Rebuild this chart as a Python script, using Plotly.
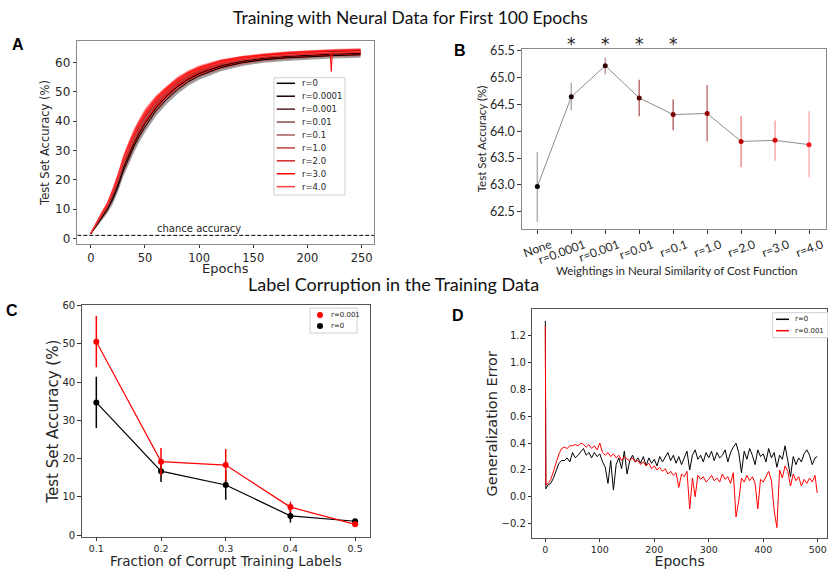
import plotly.graph_objects as go

W, H = 828, 569
def px(x): return x / W
def py(y): return 1 - y / H

# ---------------- Panel A data ----------------
epochs_A = [0, 5, 10, 15, 20, 25, 30, 35, 40, 45, 50, 60, 70, 80, 90, 100, 120, 140, 160, 180, 200, 221, 222, 223, 249]
labels_A = ["r=0", "r=0.0001", "r=0.001", "r=0.01", "r=0.1", "r=1.0", "r=2.0", "r=3.0", "r=4.0"]
acc_r0     = [1.5, 4.3, 7.0, 9.6, 13.0, 17.5, 23.0, 27.5, 31.5, 35.0, 38.0, 43.5, 47.5, 50.8, 53.5, 55.5, 58.3, 60.0, 61.0, 61.6, 62.0, 62.4, 62.4, 62.4, 62.7]
acc_r00001 = [1.6, 4.5, 7.3, 10.0, 13.8, 18.5, 24.0, 28.5, 32.5, 36.0, 39.2, 44.5, 48.5, 51.8, 54.3, 56.3, 58.9, 60.5, 61.5, 62.1, 62.6, 62.9, 62.9, 62.9, 63.2]
acc_r0001  = [1.7, 4.8, 7.8, 10.6, 14.8, 19.8, 25.6, 30.2, 34.4, 38.0, 41.3, 46.2, 50.0, 53.2, 55.5, 57.3, 59.7, 61.2, 62.2, 62.8, 63.3, 63.7, 63.7, 63.7, 64.0]
acc_r001   = [1.6, 4.7, 7.6, 10.4, 14.4, 19.2, 25.0, 29.6, 33.8, 37.3, 40.6, 45.6, 49.5, 52.7, 55.1, 57.0, 59.4, 60.9, 61.9, 62.5, 63.0, 63.4, 63.4, 63.4, 63.6]
acc_r01    = [1.7, 4.9, 7.9, 10.7, 14.9, 19.6, 25.3, 30.0, 34.1, 37.7, 40.9, 45.9, 49.8, 52.9, 55.3, 57.1, 59.5, 60.9, 61.9, 62.5, 62.9, 63.3, 63.3, 63.3, 63.5]
acc_r1     = [1.8, 5.0, 8.0, 10.9, 15.2, 20.2, 26.0, 30.6, 34.8, 38.4, 41.7, 46.5, 50.2, 53.3, 55.6, 57.4, 59.7, 61.1, 62.0, 62.6, 63.0, 63.4, 63.4, 63.4, 63.6]
acc_r2     = [1.7, 4.9, 7.9, 10.8, 15.0, 20.0, 25.8, 30.4, 34.6, 38.2, 41.5, 46.3, 50.0, 53.1, 55.4, 57.2, 59.6, 61.0, 61.9, 62.5, 62.9, 63.3, 63.3, 63.3, 63.5]
acc_r3     = [1.8, 5.1, 8.2, 11.1, 15.4, 20.6, 26.4, 31.0, 35.3, 38.8, 42.1, 46.8, 50.4, 53.5, 55.8, 57.6, 59.9, 61.2, 62.1, 62.7, 63.1, 63.5, 57.0, 63.5, 63.7]
acc_r4     = [1.8, 5.2, 8.3, 11.0, 15.5, 20.5, 26.5, 31.0, 35.5, 39.0, 42.5, 47.0, 50.5, 53.8, 56.0, 57.8, 60.0, 61.3, 62.2, 62.8, 63.2, 63.5, 63.5, 63.5, 63.8]
std_A      = [0.3, 0.7, 0.9, 1.2, 1.5, 1.8, 2.0, 2.1, 2.1, 2.0, 1.9, 1.8, 1.6, 1.5, 1.4, 1.3, 1.2, 1.1, 1.0, 1.0, 1.0, 1.0, 1.0, 1.0, 1.0]
series_A = [acc_r0, acc_r00001, acc_r0001, acc_r001, acc_r01, acc_r1, acc_r2, acc_r3, acc_r4]
chance_level = 1.0

# ---------------- Panel B data ----------------
labels_B = ["None", "r=0.0001", "r=0.001", "r=0.01", "r=0.1", "r=1.0", "r=2.0", "r=3.0", "r=4.0"]
mean_B = [62.97, 64.64, 65.22, 64.62, 64.31, 64.33, 63.81, 63.83, 63.75]
errp_B = [0.64, 0.26, 0.15, 0.34, 0.28, 0.53, 0.47, 0.37, 0.62]
errm_B = [0.66, 0.25, 0.16, 0.34, 0.29, 0.52, 0.48, 0.38, 0.61]
significant_B = ["r=0.0001", "r=0.001", "r=0.01", "r=0.1"]

# ---------------- Panel C data ----------------
frac_C = [0.1, 0.2, 0.3, 0.4, 0.5]
acc_C_r0001 = [50.6, 19.2, 18.3, 7.3, 2.8]
err_C_r0001 = [6.7, 3.6, 4.2, 1.4, 0.5]
acc_C_r0 = [34.7, 16.7, 13.1, 5.0, 3.6]
err_C_r0 = [6.7, 2.8, 3.9, 1.7, 0.4]

# ---------------- Panel D data ----------------
epochs_D = [0, 1] + list(range(5, 500, 5)) + [499]
gen_r0 = [1.31, 0.06,
    0.09, 0.10, 0.14, 0.19, 0.25, 0.27, 0.27, 0.29, 0.26, 0.33,
    0.29, 0.31, 0.34, 0.36, 0.31, 0.33, 0.29, 0.33, 0.30, 0.32,
    0.26, 0.22, 0.10, 0.27, 0.05, 0.24, 0.29, 0.21, 0.34, 0.17,
    0.27, 0.31, 0.26, 0.29, 0.25, 0.30, 0.23, 0.29, 0.25, 0.28,
    0.23, 0.30, 0.26, 0.29, 0.33, 0.27, 0.31, 0.25, 0.30, 0.24,
    0.29, 0.34, 0.20, 0.31, 0.35, 0.28, 0.31, 0.26, 0.33, 0.29,
    0.34, 0.27, 0.33, 0.29, 0.31, 0.35, 0.26, 0.33, 0.37, 0.40,
    0.33, 0.18, 0.34, 0.28, 0.36, 0.31, 0.24, 0.35, 0.30, 0.32,
    0.26, 0.36, 0.29, 0.33, 0.22, 0.31, 0.28, 0.38, 0.27, 0.15,
    0.30, 0.24, 0.29, 0.26, 0.32, 0.35, 0.31, 0.24, 0.29,
    0.30]
gen_r0001 = [1.27, 0.09,
    0.10, 0.13, 0.19, 0.25, 0.32, 0.36, 0.37, 0.36, 0.38, 0.38,
    0.39, 0.38, 0.40, 0.39, 0.37, 0.39, 0.36, 0.38, 0.35, 0.40,
    0.33, 0.31, 0.33, 0.30, 0.32, 0.29, 0.31, 0.27, 0.30, 0.28,
    0.27, 0.29, 0.26, 0.27, 0.24, 0.26, 0.23, 0.25, 0.21, 0.23,
    0.20, 0.22, 0.19, 0.21, 0.17, 0.19, 0.16, 0.18, 0.07, 0.17,
    0.15, 0.19, -0.09, 0.14, 0.00, 0.16, 0.13, 0.15, 0.11, 0.13,
    0.16, 0.12, 0.14, 0.11, 0.17, 0.13, 0.15, 0.10, 0.18, -0.15,
    -0.03, 0.14, 0.11, 0.16, 0.12, 0.15, 0.10, -0.09, 0.13, 0.11,
    0.15, 0.19, 0.12, -0.10, -0.23, 0.20, 0.14, 0.23, 0.19, 0.08,
    0.17, 0.12, 0.15, 0.08, 0.13, 0.10, 0.14, 0.11, 0.16,
    0.03]

# ---------------- styles ----------------
colors_A = ["#000000", "#1a0000", "#5a2020", "#8b4b4b", "#a85a5a", "#c04040", "#d02828", "#ff0000", "#ff4040"]
colors_B_marker = ["#000000", "#1a0000", "#330000", "#550000", "#770000", "#990000", "#bb0000", "#dd0000", "#ff1a1a"]
colors_B_err = ["#b0b0b0", "#b0b0b0", "#c09a9a", "#b87070", "#b86868", "#c87878", "#f09090", "#f8a8a8", "#ffb8b8"]
MPL = "DejaVu Sans"
CAL = "Lato"
TXT = "#262626"

fig = go.Figure()

# ---- Panel A traces: bands then lines ----
for i, ys in enumerate(series_A):
    up = [m + s for m, s in zip(ys, std_A)]
    lo = [m - s for m, s in zip(ys, std_A)]
    fc = "rgba(120,120,120,0.7)" if i == 0 else "rgba(255,0,0,0.3)"
    fig.add_trace(go.Scatter(x=epochs_A, y=up, mode="lines", line=dict(width=0), showlegend=False,
                             hoverinfo="skip", xaxis="x", yaxis="y"))
    fig.add_trace(go.Scatter(x=epochs_A, y=lo, mode="lines", line=dict(width=0), fill="tonexty",
                             fillcolor=fc, showlegend=False, hoverinfo="skip", xaxis="x", yaxis="y"))
for i, ys in enumerate(series_A):
    fig.add_trace(go.Scatter(x=epochs_A, y=ys, mode="lines", name=labels_A[i],
                             line=dict(color=colors_A[i], width=1), showlegend=False, xaxis="x", yaxis="y"))
fig.add_trace(go.Scatter(x=[-12.45, 261.45], y=[chance_level, chance_level], mode="lines",
                         line=dict(color="black", width=1, dash="4px,2px"), showlegend=False,
                         xaxis="x", yaxis="y"))

# ---- Panel B ----
fig.add_trace(go.Scatter(x=labels_B, y=mean_B, mode="lines", line=dict(color="#8c8c8c", width=1),
                         showlegend=False, xaxis="x2", yaxis="y2"))
for i, lab in enumerate(labels_B):
    fig.add_trace(go.Scatter(x=[lab], y=[mean_B[i]], mode="markers",
                             marker=dict(color=colors_B_marker[i], size=5),
                             error_y=dict(type="data", symmetric=False, array=[errp_B[i]], arrayminus=[errm_B[i]],
                                          color=colors_B_err[i], thickness=1.5, width=0),
                             showlegend=False, xaxis="x2", yaxis="y2"))

# ---- Panel C ----
fig.add_trace(go.Scatter(x=frac_C, y=acc_C_r0, mode="lines+markers", name="r=0",
                         line=dict(color="black", width=1.2), marker=dict(color="black", size=6),
                         error_y=dict(type="data", array=err_C_r0, color="black", thickness=1.5, width=0),
                         showlegend=False, xaxis="x3", yaxis="y3"))
fig.add_trace(go.Scatter(x=frac_C, y=acc_C_r0001, mode="lines+markers", name="r=0.001",
                         line=dict(color="red", width=1.2), marker=dict(color="red", size=6),
                         error_y=dict(type="data", array=err_C_r0001, color="red", thickness=1.5, width=0),
                         showlegend=False, xaxis="x3", yaxis="y3"))

# ---- Panel D ----
fig.add_trace(go.Scatter(x=epochs_D, y=gen_r0, mode="lines", name="r=0",
                         line=dict(color="black", width=1), showlegend=False, xaxis="x4", yaxis="y4"))
fig.add_trace(go.Scatter(x=epochs_D, y=gen_r0001, mode="lines", name="r=0.001",
                         line=dict(color="red", width=1), showlegend=False, xaxis="x4", yaxis="y4"))

# ---- axes ----
def ax(domain, rng, anchor, tickfont, linecolor="#555555", **kw):
    d = dict(domain=domain, range=rng, anchor=anchor, showline=True, mirror=True, linecolor=linecolor,
             linewidth=1, ticks="outside", ticklen=3.5, tickwidth=1, tickcolor="#333333",
             showgrid=False, zeroline=False, tickfont=tickfont, automargin=False)
    d.update(kw)
    return d

fA = dict(family=MPL, size=12, color=TXT)
fig.update_layout(
    xaxis=ax([px(77.3), px(374)], [-12.45, 261.45], "y", dict(family=MPL, size=11.5, color=TXT),
             linecolor="#8a8a8a", ticklen=2.5, tickvals=[0, 50, 100, 150, 200, 250]),
    yaxis=ax([py(244.3), py(40.7)], [-2.05, 67.5], "x", fA, linecolor="#8a8a8a",
             tickvals=[0, 10, 20, 30, 40, 50, 60],
             title=dict(text="Test Set Accuracy (%)", font=dict(family=MPL, size=11.5, color=TXT), standoff=3)),
    xaxis2=ax([px(521.7), px(826)], [-0.46, 8.5], "y2", dict(family=CAL, size=12, color=TXT),
              linecolor="#8a8a8a", type="category", categoryorder="array", categoryarray=labels_B, tickangle=-20,
              ticklabelshift=13),
    yaxis2=ax([py(229), py(49)], [62.18, 65.53], "x2", dict(family=CAL, size=12.5, color=TXT),
              linecolor="#8a8a8a", tickvals=[62.5, 63.0, 63.5, 64.0, 64.5, 65.0, 65.5], tickformat=".1f",
              title=dict(text="Test Set Accuracy (%)", font=dict(family=CAL, size=11.5, color=TXT), standoff=0)),
    xaxis3=ax([px(81.7), px(370)], [0.0774, 0.523], "y3", dict(family=MPL, size=9.5, color=TXT), ticklen=2.5,
              tickvals=[0.1, 0.2, 0.3, 0.4, 0.5], tickformat=".1f",
              title=dict(text="Fraction of Corrupt Training Labels", font=dict(family=MPL, size=13.5, color=TXT), standoff=7)),
    yaxis3=ax([py(537.3), py(305)], [-0.6, 60.2], "x3", dict(family=MPL, size=10, color=TXT),
              tickvals=[0, 10, 20, 30, 40, 50, 60],
              title=dict(text="Test Set Accuracy (%)", font=dict(family=MPL, size=15, color=TXT), standoff=0)),
    xaxis4=ax([px(532.3), px(827)], [-23.9, 517], "y4", dict(family=MPL, size=9.5, color=TXT), ticklen=2.5,
              tickvals=[0, 100, 200, 300, 400, 500],
              title=dict(text="Epochs", font=dict(family=MPL, size=14, color=TXT), standoff=7)),
    yaxis4=ax([py(538.3), py(309.3)], [-0.309, 1.397], "x4", dict(family=MPL, size=10, color=TXT),
              tickvals=[-0.2, 0.0, 0.2, 0.4, 0.6, 0.8, 1.0, 1.2], tickformat=".1f",
              title=dict(text="Generalization Error", font=dict(family=MPL, size=14.5, color=TXT), standoff=0)),
)

annotations = []
shapes = []

# titles
annotations.append(dict(text="Training with Neural Data for First 100 Epochs", x=px(410), y=py(18),
                        xref="paper", yref="paper", showarrow=False, xanchor="center", yanchor="middle",
                        font=dict(family=CAL, size=17.5, color="#111")))
annotations.append(dict(text="Label Corruption in the Training Data", x=px(393), y=py(284),
                        xref="paper", yref="paper", showarrow=False, xanchor="center", yanchor="middle",
                        font=dict(family=CAL, size=18, color="#111")))
# x-axis titles of A and B placed as text under their tick labels
annotations.append(dict(text="Epochs", x=px(225.6), y=py(268.5), xref="paper", yref="paper", showarrow=False,
                        xanchor="center", yanchor="middle", font=dict(family=MPL, size=13, color=TXT)))
annotations.append(dict(text="Weightings in Neural Similarity of Cost Function", x=px(676), y=py(270),
                        xref="paper", yref="paper", showarrow=False, xanchor="center", yanchor="middle",
                        font=dict(family=CAL, size=11.5, color=TXT)))
# panel letters
for letter, (lx, ly) in zip("ABCD", [(17.5, 44), (460, 50.5), (12, 310.5), (457.5, 315)]):
    annotations.append(dict(text="<b>%s</b>" % letter, x=px(lx), y=py(ly), xref="paper", yref="paper",
                            showarrow=False, xanchor="center", yanchor="middle",
                            font=dict(family="Liberation Sans", size=16, color="black")))
# chance accuracy label
annotations.append(dict(text="chance accuracy", x=100, y=chance_level, xref="x", yref="y", showarrow=False,
                        xanchor="center", yanchor="bottom", yshift=-1,
                        font=dict(family=MPL, size=10, color=TXT)))
# significance stars
for lab in significant_B:
    annotations.append(dict(text="*", x=lab, y=py(44), xref="x2", yref="paper", showarrow=False,
                            xanchor="center", yanchor="middle", font=dict(family=MPL, size=17, color="#222")))

# ---- manual legends ----
def legend_box(x0, y0, x1, y1):
    shapes.append(dict(type="rect", xref="paper", yref="paper", x0=px(x0), x1=px(x1), y0=py(y1), y1=py(y0),
                       line=dict(color="#d0d0d0", width=1), fillcolor="rgba(255,255,255,0.85)", layer="above"))

def legend_line(xa, xb, y, color, label, xt, size):
    shapes.append(dict(type="line", xref="paper", yref="paper", x0=px(xa), x1=px(xb), y0=py(y), y1=py(y),
                       line=dict(color=color, width=1.5), layer="above"))
    annotations.append(dict(text=label, x=px(xt), y=py(y), xref="paper", yref="paper", showarrow=False,
                            xanchor="left", yanchor="middle", font=dict(family=MPL, size=size, color=TXT)))

def legend_dot(xc, y, color, label, xt, size):
    shapes.append(dict(type="circle", xref="paper", yref="paper", xsizemode="pixel", ysizemode="pixel",
                       xanchor=px(xc), yanchor=py(y), x0=-3, x1=3, y0=-3, y1=3,
                       fillcolor=color, line=dict(color=color, width=0), layer="above"))
    annotations.append(dict(text=label, x=px(xt), y=py(y), xref="paper", yref="paper", showarrow=False,
                            xanchor="left", yanchor="middle", font=dict(family=MPL, size=size, color=TXT)))

# A legend
legend_box(274, 77.7, 345, 195)
for i, lab in enumerate(labels_A):
    legend_line(276.7, 295, 83.3 + 12.92 * i, colors_A[i], lab, 300, 8.5)
# C legend
legend_box(310, 308, 357, 333)
legend_dot(320, 315, "red", "r=0.001", 329, 7)
legend_dot(320, 326, "black", "r=0", 329, 7)
# D legend
legend_box(772.7, 312.7, 829, 337.7)
legend_line(776, 789, 319.3, "black", "r=0", 793, 7)
legend_line(776, 789, 330.7, "red", "r=0.001", 793, 7)

fig.update_layout(annotations=annotations, shapes=shapes, template="none",
                  width=W, height=H, margin=dict(l=0, r=0, t=0, b=0), autosize=False,
                  paper_bgcolor="white", plot_bgcolor="white", showlegend=False)

fig.write_html("out.html")
